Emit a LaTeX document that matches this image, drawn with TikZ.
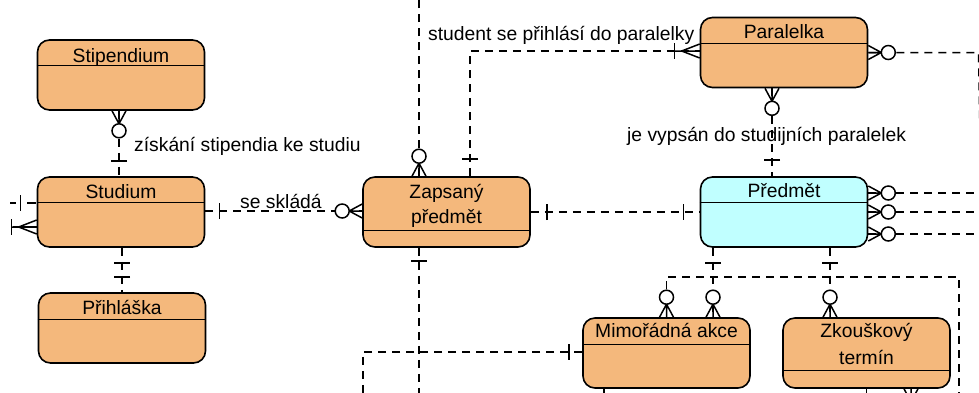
\documentclass[tikz,border=0pt]{standalone}
\usepackage{fontspec}
\setmainfont{Liberation Sans}
\definecolor{entorange}{RGB}{244,184,124}
\definecolor{entcyan}{RGB}{192,255,255}
\tikzset{
  % bar: "exactly one" mark at distance #1 from the entity edge
  pics/erbar/.style={code={\draw[ermk] (-8,#1) -- (8,#1);}},
  % zero or many: crow's foot plus circle
  pics/erzmany/.style={code={
    \draw[ermk] (-7,0) -- (0,13) -- (7,0) (0,0) -- (0,13);
    \draw[ermk, fill=white] (0,20) circle[radius=7pt];}},
  % one or many: crow's foot plus bar
  pics/eromany/.style={code={
    \draw[ermk] (-7,0) -- (0,18) -- (7,0) (0,0) -- (0,25);
    \draw[ermk] (-8,25) -- (8,25);}},
}
\begin{document}
\begin{tikzpicture}[x=1pt,y=-1pt,
  every node/.style={font=\fontsize{19.3}{23}\selectfont, inner sep=0pt},
  ent/.style={draw=black, line width=1.6pt, rounded corners=12pt, fill=entorange,
    minimum width=167pt, minimum height=70pt},
  entb/.style={ent, fill=entcyan},
  hdr/.style={line width=1.2pt},
  errel/.style={draw=black, line width=1.5pt, dash pattern=on 8pt off 6pt},
  ermk/.style={line width=1.5pt, solid, line join=miter},
]
\useasboundingbox (0,0) rectangle (979,392);

% ---------- entities ----------
\node[ent]  (stip) at (121,75)    {};
\node[ent]  (stud) at (121,212)   {};
\node[ent]  (prih) at (122,328)   {};
\node[ent]  (zap)  at (446.5,212) {};
\node[ent]  (par)  at (784,52.5)  {};
\node[entb] (pred) at (784,212)   {};
\node[ent]  (mim)  at (666.5,353) {};
\node[ent]  (zk)   at (866.5,353) {};

% header separators
\foreach \e/\d in {stip/26, stud/26, prih/27, par/27, pred/26, mim/27, zap/54, zk/53}
  \draw[hdr] ([yshift=-\d pt]\e.north west) -- ([yshift=-\d pt]\e.north east);

% titles
\node[anchor=base] (stipT) at ([yshift=-23pt]stip.north) {Stipendium};
\node[anchor=base] (studT) at ([yshift=-22pt]stud.north) {Studium};
\node[anchor=base] (prihT) at ([yshift=-22pt]prih.north) {Přihláška};
\node[anchor=base] (zapT)  at ([yshift=-22pt]zap.north)  {Zapsaný};
\node[anchor=base] (zapT2) at ([yshift=-47pt]zap.north)  {předmět};
\node[anchor=base] (parT)  at ([yshift=-22pt]par.north)  {Paralelka};
\node[anchor=base] (predT) at ([yshift=-21pt]pred.north) {Předmět};
\node[anchor=base] (mimT)  at ([yshift=-20pt]mim.north)  {Mimořádná akce};
\node[anchor=base] (zkT)   at ([yshift=-20pt]zk.north)   {Zkouškový};
\node[anchor=base] (zkT2)  at ([yshift=-47pt]zk.north)   {termín};

% ---------- free ends of connectors leaving the sheet ----------
\coordinate (w1) at (10,203);
\coordinate (w2) at (13,227);
\coordinate (n1) at (419,-2);
\coordinate (s1) at (419,396);
\coordinate (s2) at (363,396);
\coordinate (s3) at (959,396);
\coordinate (s4) at (604,396);
\coordinate (k1) at (959,277);
\coordinate (e0a) at (978.5,52);
\coordinate (e0b) at (981,196);

% ---------- relationships ----------
% Stipendium -- Studium
\draw[errel] ([xshift=-2pt]stip.south) -- ([xshift=-2pt]stud.north);
\pic at ([xshift=-2pt]stip.south) {erzmany};
\pic[rotate=180] at ([xshift=-2pt]stud.north) {erbar=15};
\node[anchor=base west] (lbl1) at (134,151) {získání stipendia ke studiu};

% Studium -- Zapsaný předmět
\draw[errel] ([yshift=1pt]stud.east) -- ([yshift=1pt]zap.west);
\pic[rotate=90] at ([yshift=1pt]stud.east) {erbar=14};
\pic[rotate=-90] at ([yshift=1pt]zap.west) {erzmany};
\node[anchor=base west] (lbl2) at (240,208) {se skládá};

% Studium -- Přihláška
\draw[errel] ([xshift=1pt]stud.south) -- (prih.north);
\pic at ([xshift=1pt]stud.south) {erbar=15};
\pic[rotate=180] at (prih.north) {erbar=15};

% Studium, left side
\draw[errel, dash pattern=on 6pt off 11pt on 9pt off 2pt] (w1) -- ([yshift=9pt]stud.west);
\pic[rotate=-90] at ([yshift=9pt]stud.west) {erbar=16};
\draw[ermk] ([yshift=-15pt]stud.west) -- (w2);
\pic[rotate=-90] at ([yshift=-15pt]stud.west) {eromany};

% Zapsaný předmět, upwards
\draw[errel] ([xshift=-27.5pt]zap.north) -- (n1);
\pic[rotate=180] at ([xshift=-27.5pt]zap.north) {erzmany};

% Zapsaný předmět -- Paralelka
\draw[errel] ([xshift=23.5pt]zap.north) |- ([yshift=1.5pt]par.west);
\pic[rotate=180] at ([xshift=23.5pt]zap.north) {erbar=17};
\pic[rotate=-90] at ([yshift=1.5pt]par.west) {eromany};
\node[anchor=base west] (lbl3) at (428,40) {student se přihlásí do paralelky};

% Zapsaný předmět -- Předmět
\draw[errel] (zap.east) -- (pred.west);
\pic[rotate=90] at (zap.east) {erbar=16};
\pic[rotate=-90] at (pred.west) {erbar=16};

% Zapsaný předmět, downwards
\draw[errel] ([xshift=-27.5pt]zap.south) -- (s1);
\pic at ([xshift=-27.5pt]zap.south) {erbar=13};

% Mimořádná akce, left side
\draw[errel] ([yshift=1pt]mim.west) -| (s2);
\pic[rotate=-90] at ([yshift=1pt]mim.west) {erbar=13};

% Paralelka -- Předmět
\draw[errel] ([xshift=-12pt]par.south) -- ([xshift=-12pt]pred.north);
\pic at ([xshift=-12pt]par.south) {erzmany};
\pic[rotate=180] at ([xshift=-12pt]pred.north) {erbar=16};
\node[anchor=base west] (lbl4) at (627,141) {je vypsán do studijních paralelek};

% Paralelka, right side
\draw[errel] (par.east) -- (par.east -| e0a) -- (e0b);
\pic[rotate=90] at (par.east) {erzmany};

% Předmět, right side
\foreach \d in {19,0,-22} {
  \draw[errel] ([yshift=\d pt]pred.east) -- ++(118,0);
  \pic[rotate=90] at ([yshift=\d pt]pred.east) {erzmany};
}

% Předmět -- Mimořádná akce
\draw[errel] ([xshift=-71pt]pred.south) -- ([xshift=46.5pt]mim.north);
\pic at ([xshift=-71pt]pred.south) {erbar=15};
\pic[rotate=180] at ([xshift=46.5pt]mim.north) {erzmany};

% Předmět -- Zkouškový termín
\draw[errel] ([xshift=46pt]pred.south) -- ([xshift=-36.5pt]zk.north);
\pic at ([xshift=46pt]pred.south) {erbar=15};
\pic[rotate=180] at ([xshift=-36.5pt]zk.north) {erzmany};

% Mimořádná akce, over the top to the right
\draw[errel] (mim.north) |- (k1) -- (s3);
\pic[rotate=180] at (mim.north) {erzmany};

% stubs leaving at the bottom
\draw[errel] ([xshift=-62.5pt]mim.south) -- (s4);
\draw[errel] (zk.south) -- ++(0,10);
\pic at ([xshift=44.5pt]zk.south) {erzmany};
\end{tikzpicture}
\end{document}
